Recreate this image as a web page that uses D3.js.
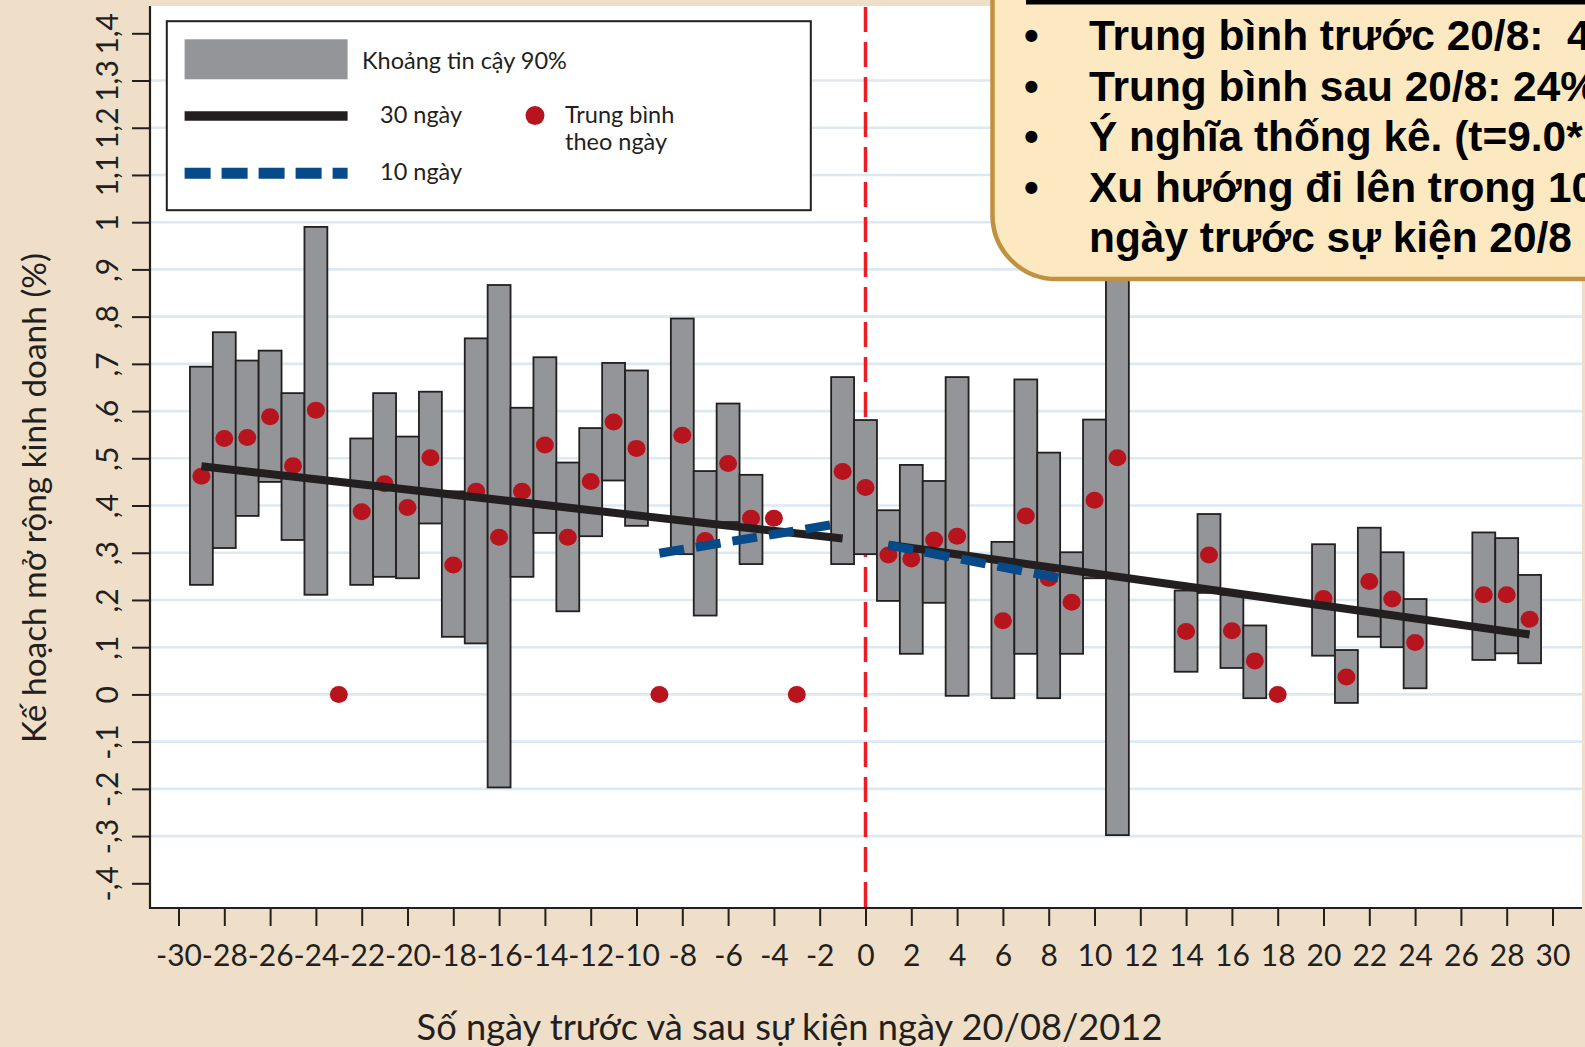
<!DOCTYPE html>
<html><head><meta charset="utf-8">
<script src="https://cdn.jsdelivr.net/npm/d3@7"></script>
<style>
html,body{margin:0;padding:0;background:#efdfc9;overflow:hidden}
svg{display:block}
</style></head><body>
<svg id="chart" width="1585" height="1047"></svg>
<script>
// ---------- data ----------
const boxDays = [-29,-28,-27,-26,-25,-24,-22,-21,-20,-19,-18,-17,-16,-15,-14,-13,-12,-11,-10,-8,-7,-6,-5,-1,0,1,2,3,4,6,7,8,9,10,11,14,15,16,17,20,21,22,23,24,27,28,29];
const ciLow  = [0.232,0.310,0.378,0.450,0.327,0.211,0.232,0.249,0.246,0.362,0.122,0.108,-0.197,0.249,0.342,0.176,0.335,0.453,0.357,0.297,0.167,0.365,0.276,0.276,0.297,0.198,0.086,0.194,-0.003,-0.008,0.086,-0.008,0.086,0.246,-0.298,0.048,0.215,0.056,-0.008,0.082,-0.018,0.122,0.100,0.013,0.073,0.087,0.066];
const ciHigh = [0.694,0.767,0.707,0.728,0.638,0.990,0.542,0.638,0.546,0.641,0.430,0.754,0.867,0.607,0.714,0.491,0.564,0.702,0.686,0.796,0.473,0.616,0.465,0.672,0.581,0.390,0.486,0.452,0.672,0.323,0.667,0.512,0.301,0.582,1.000,0.220,0.382,0.211,0.146,0.318,0.094,0.353,0.301,0.202,0.343,0.331,0.253];
const meanDays   = [-29,-28,-27,-26,-25,-24,-23,-22,-21,-20,-19,-18,-17,-16,-15,-14,-13,-12,-11,-10,-9,-8,-7,-6,-5,-4,-3,-1,0,1,2,3,4,6,7,8,9,10,11,14,15,16,17,18,20,21,22,23,24,27,28,29];
const meanValues = [0.462,0.542,0.544,0.588,0.484,0.602,0,0.387,0.446,0.396,0.501,0.274,0.430,0.333,0.430,0.528,0.333,0.451,0.577,0.521,0,0.549,0.326,0.489,0.373,0.373,0,0.472,0.438,0.295,0.287,0.327,0.335,0.156,0.378,0.246,0.195,0.411,0.501,0.133,0.295,0.135,0.071,0,0.203,0.037,0.239,0.202,0.110,0.211,0.211,0.159];
const trend30Before = [[-29,0.483],[-1,0.330]];
const trend30After  = [[1,0.317],[29,0.127]];
const trend10Before = [[-9,0.299],[-1.5,0.359]];
const trend10After  = [[1,0.316],[8.5,0.246]];
const xTickValues = [-30,-28,-26,-24,-22,-20,-18,-16,-14,-12,-10,-8,-6,-4,-2,0,2,4,6,8,10,12,14,16,18,20,22,24,26,28,30];
const yTickValues = [-0.4,-0.3,-0.2,-0.1,0,0.1,0.2,0.3,0.4,0.5,0.6,0.7,0.8,0.9,1.0,1.1,1.2,1.3,1.4];
const yTickLabels = ["-,4","-,3","-,2","-,1","0",",1",",2",",3",",4",",5",",6",",7",",8",",9","1","1,1","1,2","1,3","1,4"];
const yGridValues = [-0.3,-0.2,-0.1,0,0.1,0.2,0.3,0.4,0.5,0.6,0.7,0.8,0.9,1.0,1.1,1.2,1.3];
const legendLabels = ["Khoảng tin cậy 90%","30 ngày","10 ngày","Trung bình","theo ngày"];
const yTitle = "Kế hoạch mở rộng kinh doanh (%)";
const xTitle = "Số ngày trước và sau sự kiện ngày 20/08/2012";
const noteLines = [
  {bullet:true,  text:"Trung bình trước 20/8:  4"},
  {bullet:true,  text:"Trung bình sau 20/8: 24%"},
  {bullet:true,  text:"Ý nghĩa thống kê. (t=9.0*"},
  {bullet:true,  text:"Xu hướng đi lên trong 10"},
  {bullet:false, text:"ngày trước sự kiện 20/8"}
];

// ---------- setup ----------
const FONT = "Lato, 'Noto Sans', sans-serif";
const INK = "#231f20";
const svg = d3.select("#chart");
const P = {left:150, right:1582, top:6, bottom:908};
const x = d3.scaleLinear().domain([-30,30]).range([178.5,1552.5]);
const y = d3.scaleLinear().domain([-0.4,1.4]).range([883.3,33.3]);

function fitWidth(sel, target){
  const w = sel.node().getComputedTextLength();
  const fs = parseFloat(sel.attr("font-size"));
  if (w > 0) sel.attr("font-size", (fs*target/w).toFixed(2));
}

svg.append("rect").attr("width",1585).attr("height",1047).attr("fill","#efdfc9");
svg.append("rect").attr("x",P.left).attr("y",P.top).attr("width",P.right-P.left).attr("height",P.bottom-P.top).attr("fill","#ffffff");

// gridlines
svg.append("g").selectAll("line").data(yGridValues).join("line")
  .attr("x1",P.left+1).attr("x2",P.right).attr("y1",d=>y(d)).attr("y2",d=>y(d))
  .attr("stroke","#dde9f1").attr("stroke-width",2.6);

// event line
svg.append("line").attr("x1",x(0)).attr("x2",x(0)).attr("y1",P.top+1).attr("y2",P.bottom)
  .attr("stroke","#ee1c25").attr("stroke-width",3.5).attr("stroke-dasharray","25,10");

// CI boxes
const boxes = boxDays.map((d,i)=>({d, lo:ciLow[i], hi:ciHigh[i]}));
svg.append("g").selectAll("rect").data(boxes).join("rect")
  .attr("x",b=>x(b.d-0.5)).attr("width",b=>x(b.d+0.5)-x(b.d-0.5))
  .attr("y",b=>y(b.hi)).attr("height",b=>y(b.lo)-y(b.hi))
  .attr("fill","#939598").attr("stroke",INK).attr("stroke-width",1.8);

// daily means
const means = meanDays.map((d,i)=>({d, v:meanValues[i]}));
svg.append("g").selectAll("ellipse").data(means).join("ellipse")
  .attr("cx",m=>x(m.d)).attr("cy",m=>y(m.v)).attr("rx",9).attr("ry",8.5)
  .attr("fill","#b8141d");

// trend lines
const line = d3.line().x(p=>x(p[0])).y(p=>y(p[1]));
[trend30Before, trend30After].forEach(seg=>{
  svg.append("path").attr("d",line(seg)).attr("fill","none").attr("stroke",INK).attr("stroke-width",8);
});
[trend10Before, trend10After].forEach(seg=>{
  svg.append("path").attr("d",line(seg)).attr("fill","none").attr("stroke","#064a8a")
    .attr("stroke-width",9).attr("stroke-dasharray","25,12");
});

// axes
svg.append("line").attr("x1",P.left).attr("x2",P.left).attr("y1",P.top).attr("y2",P.bottom+1)
  .attr("stroke",INK).attr("stroke-width",2.2);
svg.append("line").attr("x1",P.left).attr("x2",P.right).attr("y1",P.bottom).attr("y2",P.bottom)
  .attr("stroke",INK).attr("stroke-width",2.2);

const yAxis = svg.append("g").attr("transform",`translate(${P.left-1},0)`)
  .call(d3.axisLeft(y).tickValues(yTickValues).tickSize(17).tickFormat((d,i)=>yTickLabels[i]));
yAxis.select(".domain").remove();
yAxis.selectAll(".tick line").attr("stroke",INK).attr("stroke-width",2);
yAxis.selectAll(".tick text")
  .attr("transform","rotate(-90)").attr("x",0).attr("y",-31).attr("dy",0)
  .attr("text-anchor","middle").attr("font-family",FONT).attr("font-size",30).attr("fill",INK);

const xAxis = svg.append("g").attr("transform",`translate(0,${P.bottom+1})`)
  .call(d3.axisBottom(x).tickValues(xTickValues).tickSize(17).tickFormat(d=>String(d)));
xAxis.select(".domain").remove();
xAxis.selectAll(".tick line").attr("stroke",INK).attr("stroke-width",2);
xAxis.selectAll(".tick text").attr("y",57).attr("dy",0)
  .attr("font-family",FONT).attr("font-size",30).attr("fill",INK);

// axis titles
const yt = svg.append("text").attr("transform","translate(46,498) rotate(-90)")
  .attr("text-anchor","middle").attr("font-family",FONT).attr("font-size",32).attr("fill",INK).text(yTitle);
fitWidth(yt, 490);
const xt = svg.append("text").attr("x",789.5).attr("y",1040)
  .attr("text-anchor","middle").attr("font-family",FONT).attr("font-size",32).attr("fill",INK).text(xTitle);
fitWidth(xt, 746);

// legend
const lg = svg.append("g");
lg.append("rect").attr("x",166.8).attr("y",21.2).attr("width",644).attr("height",189)
  .attr("fill","#fff").attr("stroke",INK).attr("stroke-width",2);
lg.append("rect").attr("x",184.6).attr("y",39.3).attr("width",163).attr("height",40).attr("fill","#939598");
lg.append("line").attr("x1",184.6).attr("x2",347.6).attr("y1",116).attr("y2",116).attr("stroke",INK).attr("stroke-width",9.5);
lg.append("line").attr("x1",184.6).attr("x2",347.6).attr("y1",173.3).attr("y2",173.3).attr("stroke","#064a8a")
  .attr("stroke-width",11).attr("stroke-dasharray","26,11");
lg.append("circle").attr("cx",535).attr("cy",115.5).attr("r",9.5).attr("fill","#b8141d");
const legPos = [[362,68.5],[380,122.7],[380,180],[565,122.7],[565,149.5]];
const legTexts = legendLabels.map((t,i)=>lg.append("text").attr("x",legPos[i][0]).attr("y",legPos[i][1])
  .attr("font-family",FONT).attr("font-size",20).attr("fill",INK).text(t));
fitWidth(legTexts[0], 205);
const lfs = legTexts[0].attr("font-size");
legTexts.forEach(t=>t.attr("font-size",lfs));

// annotation box
const ag = svg.append("g");
const r = 64, bx = 992.5, by = 279;
ag.append("path")
  .attr("d",`M${bx},-10 L${bx},${by-r} A${r},${r} 0 0 0 ${bx+r},${by} L1600,${by} L1600,-10 Z`)
  .attr("fill","#fde9c1").attr("stroke","#c0913e").attr("stroke-width",4.5);
ag.append("line").attr("x1",1026).attr("x2",1600).attr("y1",2.2).attr("y2",2.2).attr("stroke","#000").attr("stroke-width",4.5);
const baseY = [50,100.5,151,201.5,252];
const NOTE_FONT = "'Liberation Sans', Arial, sans-serif";
const noteTexts = noteLines.map((l,i)=>{
  if (l.bullet) ag.append("text").attr("x",1024).attr("y",baseY[i])
    .attr("font-family",NOTE_FONT).attr("font-weight","bold").attr("font-size",42).text("•");
  return ag.append("text").attr("x",1089).attr("y",baseY[i]).style("white-space","pre")
    .attr("font-family",NOTE_FONT).attr("font-weight","bold").attr("font-size",44).attr("fill","#000").text(l.text);
});
fitWidth(noteTexts[4], 483);
const nfs = noteTexts[4].attr("font-size");
noteTexts.forEach(t=>t.attr("font-size",nfs));
</script>
</body></html>
